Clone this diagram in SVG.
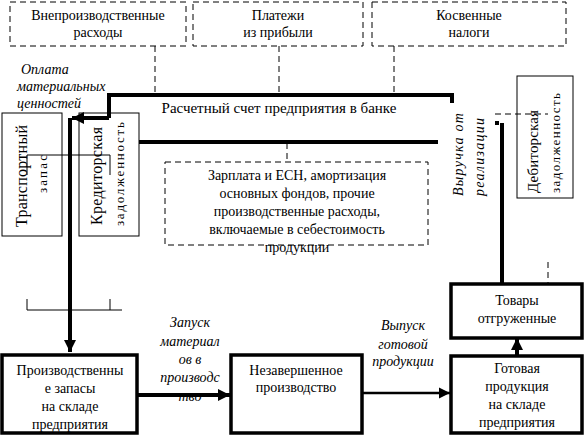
<svg xmlns="http://www.w3.org/2000/svg" width="585" height="435" viewBox="0 0 585 435">
<style>
text{font-family:"Liberation Serif","Times New Roman",Tinos,"DejaVu Serif","Noto Serif","Nimbus Roman","FreeSerif",Times,serif;fill:#000}
.t{font-size:14px;text-anchor:middle}
.it{font-size:14px;font-style:italic;text-anchor:middle}
.dash{fill:none;stroke:#000;stroke-width:1;stroke-dasharray:6 4}
.dl{fill:none;stroke:#000;stroke-width:1;stroke-dasharray:6 4}
.thin{fill:none;stroke:#000;stroke-width:1}
.bold{fill:#fff;stroke:#000;stroke-width:3.5}
.tl{fill:none;stroke:#000;stroke-width:4}
.ln{fill:none;stroke:#000;stroke-width:1}
</style>
<defs>
<marker id="ah" viewBox="0 0 10 10" refX="10" refY="5" markerWidth="3" markerHeight="3" orient="auto" markerUnits="strokeWidth">
<path d="M0,0 L10,5 L0,10 z" fill="#000"/>
</marker>
<marker id="ah2" viewBox="0 0 10 10" refX="10" refY="5" markerWidth="4.5" markerHeight="4.5" orient="auto" markerUnits="strokeWidth">
<path d="M0,0 L10,5 L0,10 z" fill="#000"/>
</marker>
</defs>
<rect width="585" height="435" fill="#fff"/>

<g id="connectors">
<path class="dl" d="M155,46 V95"/>
<path class="dl" d="M279,46 V95"/>
<path class="dl" d="M394,46 V95"/>
<path class="dl" d="M287,143 V162"/>
<path class="dl" d="M495,114 H548"/>
<path class="dl" d="M548,262 V283"/>
<path class="tl" d="M109,118 V95 H452 V103"/>
<path class="tl" d="M139,142 H438"/>
<path class="tl" d="M109,118 H72" marker-end="url(#ah)"/>
<path class="tl" d="M70,118 V352" marker-end="url(#ah)"/>
<path class="ln" d="M27,175 V155 H110 V175"/>
<path class="ln" d="M27,299 V310 H122 M110,299 V310"/>
<rect x="495" y="121" width="4" height="4" fill="#000"/>
<path class="tl" d="M502,123 V283"/>
<path class="tl" d="M138,395 H230" marker-end="url(#ah)"/>
<path fill="none" stroke="#000" stroke-width="2.5" d="M362,393 H450" marker-end="url(#ah2)"/>
<path class="tl" d="M517,355 V338" marker-end="url(#ah)"/>
</g>

<g id="vneproizv">
<rect class="dash" x="10" y="2" width="176" height="44"/>
<text class="t" x="98" y="20">Внепроизводственные</text>
<text class="t" x="98" y="37">расходы</text>
</g>
<g id="platezhi">
<rect class="dash" x="193" y="2" width="170" height="44"/>
<text class="t" x="278" y="20">Платежи</text>
<text class="t" x="278" y="37">из прибыли</text>
</g>
<g id="kosvennye">
<rect class="dash" x="372" y="2" width="194" height="44"/>
<text class="t" x="469" y="20">Косвенные</text>
<text class="t" x="469" y="37">налоги</text>
</g>

<g id="bank">
<text x="279" y="113" style="font-size:15px;text-anchor:middle">Расчетный счет предприятия в банке</text>
</g>

<g id="oplata-label">
<text class="it" x="21" y="74" style="text-anchor:start">Оплата</text>
<text class="it" x="17" y="91" style="text-anchor:start">материальных</text>
<text class="it" x="17" y="108" style="text-anchor:start">ценностей</text>
</g>

<g id="transport">
<rect class="thin" x="2" y="113" width="60" height="123"/>
<text transform="translate(27,227) rotate(-90)" style="font-size:16px" textLength="102" lengthAdjust="spacing">Транспортный</text>
<text transform="translate(47,193) rotate(-90)" style="font-size:13px" textLength="38" lengthAdjust="spacing">запас</text>
</g>

<g id="kreditor">
<rect class="thin" x="79" y="113" width="60" height="123"/>
<text transform="translate(102,225) rotate(-90)" style="font-size:16px" textLength="98" lengthAdjust="spacing">Кредиторская</text>
<text transform="translate(124,226) rotate(-90)" style="font-size:13px" textLength="104" lengthAdjust="spacing">задолженность</text>
</g>

<g id="zarplata">
<rect class="dash" x="165" y="162" width="263" height="83"/>
<text class="t" x="297" y="180">Зарплата и ЕСН, амортизация</text>
<text class="t" x="297" y="198">основных фондов, прочие</text>
<text class="t" x="297" y="216">производственные расходы,</text>
<text class="t" x="297" y="234">включаемые в себестоимость</text>
<text class="t" x="297" y="252">продукции</text>
</g>

<g id="vyruchka-label">
<text transform="translate(463,196) rotate(-90)" style="font-size:14px;font-style:italic" textLength="83" lengthAdjust="spacing">Выручка от</text>
<text transform="translate(484,196) rotate(-90)" style="font-size:14px;font-style:italic" textLength="78" lengthAdjust="spacing">реализации</text>
</g>

<g id="debitor">
<rect class="thin" x="517" y="76" width="56" height="122"/>
<text transform="translate(538,193) rotate(-90)" style="font-size:15px" textLength="83" lengthAdjust="spacing">Дебиторская</text>
<text transform="translate(560,193) rotate(-90)" style="font-size:13px" textLength="100" lengthAdjust="spacing">задолженность</text>
</g>

<g id="tovary">
<rect class="bold" x="451" y="284" width="131" height="54"/>
<text class="t" x="517" y="305">Товары</text>
<text class="t" x="517" y="323">отгруженные</text>
</g>

<g id="proizv-zapasy">
<rect class="bold" x="2" y="355" width="135" height="78"/>
<text class="t" x="70" y="375">Производственны</text>
<text class="t" x="70" y="393">е запасы</text>
<text class="t" x="70" y="411">на складе</text>
<text class="t" x="70" y="429">предприятия</text>
</g>

<g id="zapusk-label">
<text class="it" x="190" y="327">Запуск</text>
<text class="it" x="190" y="346">материал</text>
<text class="it" x="190" y="364">ов в</text>
<text class="it" x="190" y="382">производс</text>
<text class="it" x="190" y="401">тво</text>
</g>

<g id="nezaversh">
<rect class="bold" x="231" y="355" width="131" height="78"/>
<text class="t" x="296" y="375">Незавершенное</text>
<text class="t" x="296" y="392">производство</text>
</g>

<g id="vypusk-label">
<text class="it" x="403" y="330">Выпуск</text>
<text class="it" x="403" y="349">готовой</text>
<text class="it" x="403" y="366">продукции</text>
</g>

<g id="gotovaya">
<rect class="bold" x="451" y="356" width="131" height="77"/>
<text class="t" x="517" y="373">Готовая</text>
<text class="t" x="517" y="391">продукция</text>
<text class="t" x="517" y="409">на складе</text>
<text class="t" x="517" y="427">предприятия</text>
</g>
</svg>
